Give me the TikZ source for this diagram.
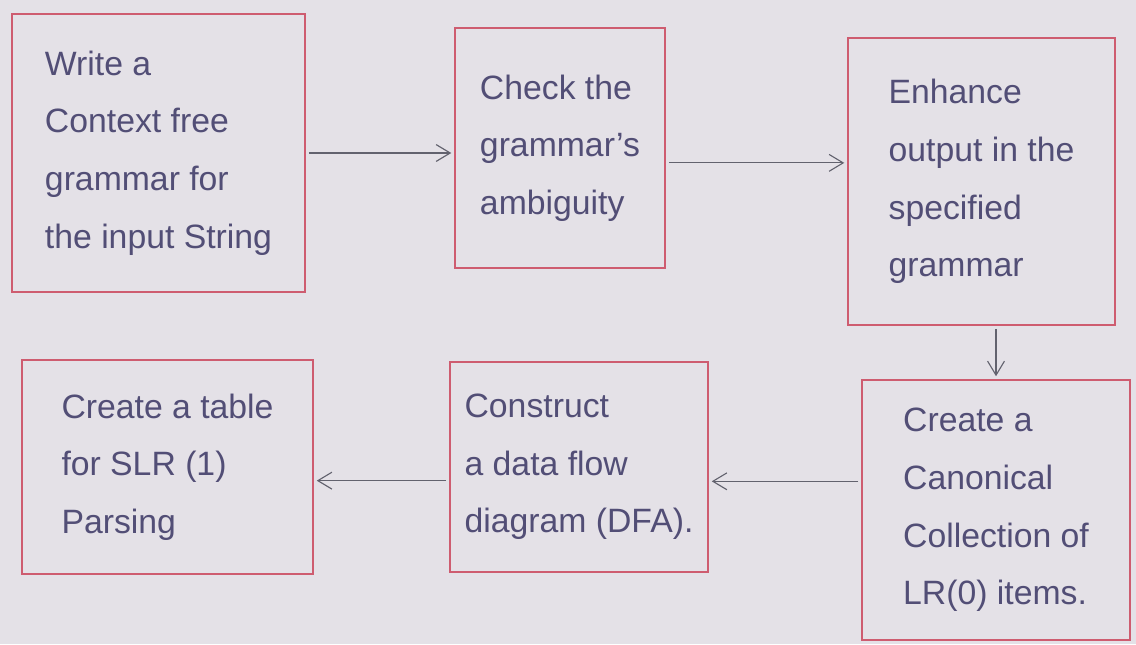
\documentclass[tikz,border=0pt]{standalone}
\usepackage{fontspec}
\setmainfont{Liberation Sans}
\usepackage{tikz}
\usetikzlibrary{arrows.meta}

\definecolor{paper}{RGB}{228,225,231}
\definecolor{pen}{RGB}{82,78,118}
\definecolor{marker}{RGB}{206,92,112}
\definecolor{pencil}{RGB}{98,98,110}

\begin{document}
\begin{tikzpicture}[x=0.025cm,y=-0.025cm,>={Straight Barb[length=10pt,width=12pt]},
    step node/.style={rectangle,draw=marker,line width=1.3pt,align=left,text=pen,font=\fontsize{24}{41}\selectfont},
    flow/.style={->,draw=pencil,line width=0.8pt,shorten >=2pt,shorten <=2pt}]
  % sheet
  \fill[paper] (0,0) rectangle (1136,644);
  \begin{scope}
    % top row
    \node[step node,minimum width=7.325cm,minimum height=6.95cm] (gram) at (158.5,153) {Write a\\Context free\\grammar for\\the input String};
    \node[step node,minimum width=5.25cm,minimum height=6cm] (amb) at (560,148) {Check the\\grammar's\\ambiguity};
    \node[step node,minimum width=6.675cm,minimum height=7.175cm] (enh) at (981.5,181.5) {Enhance\\output in the\\specified\\grammar};
    % bottom row
    \node[step node,minimum width=6.7cm,minimum height=6.5cm] (items) at (996,510) {Create a\\Canonical\\Collection of\\LR(0) items.};
    \node[step node,minimum width=6.45cm,minimum height=5.25cm] (dfa) at (579,467) {Construct\\a data flow\\diagram (DFA).};
    \node[step node,minimum width=7.275cm,minimum height=5.35cm] (slr) at (167.5,467) {Create a table\\for SLR (1)\\Parsing};

    \path (gram.east) edge[flow] (gram.east -| amb.west);
    \path (amb.-8) edge[flow] (amb.-8 -| enh.west);
    \path (items.north |- enh.south) edge[flow] (items.north);
    \path (items.168) edge[flow] (items.168 -| dfa.east);
    \path (dfa.186) edge[flow] (dfa.186 -| slr.east);
  \end{scope}
\end{tikzpicture}
\end{document}
